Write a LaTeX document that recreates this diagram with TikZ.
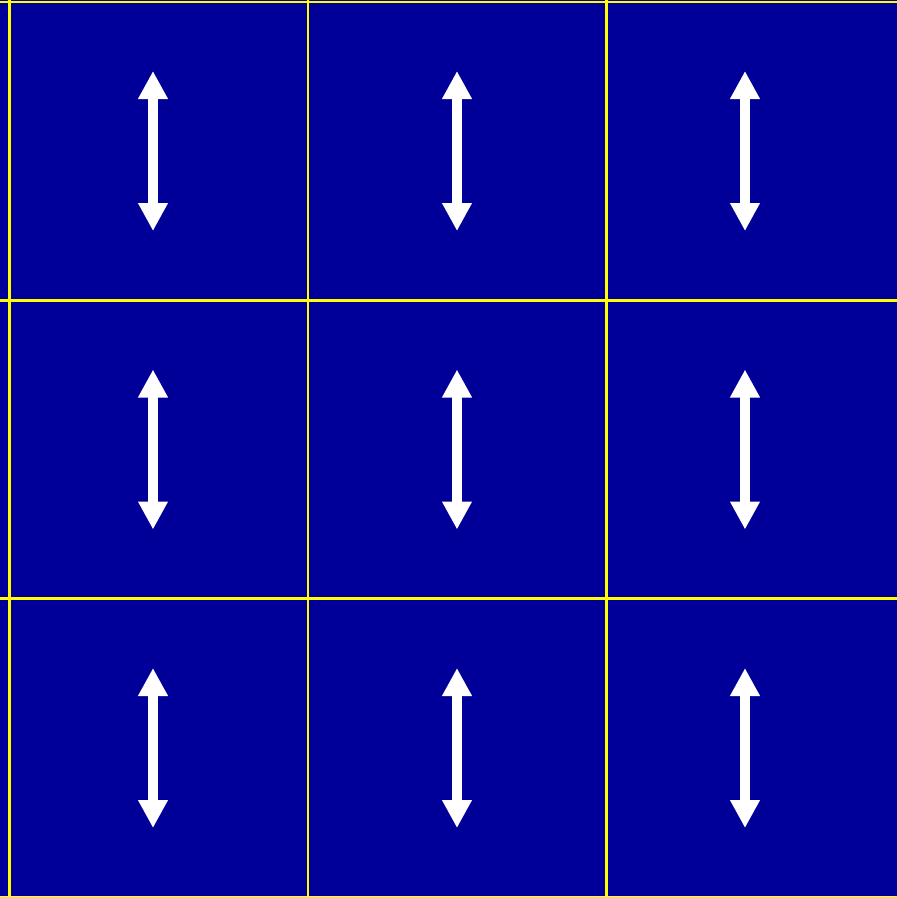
\documentclass[tikz,border=0pt]{standalone}
\usepackage{tikz}
\usetikzlibrary{arrows.meta}
\definecolor{cellblue}{RGB}{0,0,153}
\definecolor{gridyellow}{RGB}{255,255,0}
\tikzset{
  % Cell lines
  gridline/.style={draw=gridyellow, line width=0.05cm},
  % Double arrow inside each cell
  updown/.style={draw=white, line width=0.19cm,
                 {Triangle[length=0.56cm, width=0.56cm]}-{Triangle[length=0.56cm, width=0.56cm]}}
}

\begin{document}
\begin{tikzpicture}[x=0.02cm, y=-0.02cm]

% Background and frame
\useasboundingbox (0,0) rectangle (897,897);
\clip (0,0) rectangle (897,897);
\fill[cellblue] (0,0) rectangle (897,897);

% Grid of 3 x 3 cells
\foreach \c in {0,1,2,3} {
  \draw[gridline] (9.5+298.5*\c,0) -- (9.5+298.5*\c,900);
  \draw[gridline] (0,2+298.3*\c) -- (910,2+298.3*\c);
}

% Arrows
\foreach \ax in {153,457,745} {
  \foreach \ay in {151,449.5,748} {
    \draw[updown] (\ax,\ay-80) -- (\ax,\ay+80);
  }
}

\end{tikzpicture}
\end{document}
